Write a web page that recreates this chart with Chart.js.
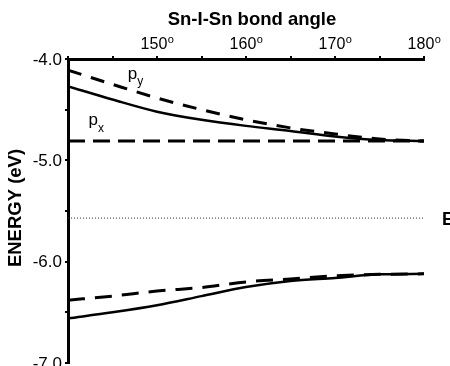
<!DOCTYPE html>
<html>
<head>
<meta charset="utf-8">
<script src="https://cdn.jsdelivr.net/npm/chart.js@4/dist/chart.umd.min.js"></script>
<style>
html,body{margin:0;padding:0;background:#fff;}
#wrap{width:450px;height:366px;position:relative;}
</style>
</head>
<body>
<div id="wrap"><canvas id="c" width="450" height="366"></canvas></div>
<script>
// ---- data ----
const angles = [140, 145, 150, 155, 160, 165, 170, 175, 180];
const upperSolid = [-4.27, -4.40, -4.52, -4.60, -4.66, -4.71, -4.765, -4.80, -4.81];
const pyDashed   = [-4.11, -4.25, -4.385, -4.50, -4.60, -4.68, -4.74, -4.79, -4.81];
const pxDashed   = [-4.81, -4.81, -4.81, -4.81, -4.81, -4.81, -4.81, -4.81, -4.81];
const lowerSolid = [-6.56, -6.50, -6.43, -6.34, -6.25, -6.19, -6.16, -6.125, -6.12];
const lowerDashed= [-6.38, -6.34, -6.29, -6.255, -6.20, -6.17, -6.14, -6.125, -6.12];
const fermiAngles = [140, 180.3];
const fermiLevel  = [-5.57, -5.57];
const xTickValues = [150, 160, 170, 180];
const yTickValues = [-4, -5, -6, -7];
const xTitle = 'Sn-I-Sn bond angle';
const yTitle = 'ENERGY (eV)';

const pts = (xs, ys) => xs.map((x, i) => ({x: x, y: ys[i]}));
const FONT = '"Liberation Sans", Arial, sans-serif';

const labelPlugin = {
  id: 'labels',
  afterDraw(chart) {
    const ctx = chart.ctx;
    const xs = chart.scales.x, ys = chart.scales.y;
    ctx.save();
    ctx.fillStyle = '#000';
    // x tick labels with superscript o
    xTickValues.forEach(v => {
      const px = xs.getPixelForValue(v);
      ctx.font = '16px ' + FONT;
      const t = String(v);
      const w1 = ctx.measureText(t).width;
      ctx.font = '11px ' + FONT;
      const w2 = ctx.measureText('o').width;
      const start = px - (w1 + w2) / 2;
      ctx.textAlign = 'left';
      ctx.textBaseline = 'alphabetic';
      ctx.font = '16px ' + FONT;
      ctx.fillText(t, start, 49);
      ctx.font = '11px ' + FONT;
      ctx.fillText('o', start + w1 + 0.5, 43);
    });
    // y tick labels
    ctx.font = '17px ' + FONT;
    ctx.textAlign = 'right';
    ctx.textBaseline = 'middle';
    yTickValues.forEach(v => {
      ctx.fillText(v.toFixed(1), 62, ys.getPixelForValue(v) + 1);
    });
    // titles
    ctx.font = 'bold 18.5px ' + FONT;
    ctx.textAlign = 'center';
    ctx.textBaseline = 'middle';
    ctx.fillText(xTitle, 252, 20);
    ctx.save();
    ctx.translate(16, 208);
    ctx.rotate(-Math.PI / 2);
    ctx.font = 'bold 18.5px ' + FONT;
    ctx.fillText(yTitle, 0, 0);
    ctx.restore();
    // curve labels
    ctx.textAlign = 'left';
    ctx.textBaseline = 'alphabetic';
    ctx.font = '17px ' + FONT;
    const pyX = xs.getPixelForValue(146.7), pyY = ys.getPixelForValue(-4.2);
    ctx.fillText('p', pyX, pyY);
    ctx.font = '12px ' + FONT;
    ctx.fillText('y', pyX + 9.5, pyY + 6);
    ctx.font = '17px ' + FONT;
    const pxX = xs.getPixelForValue(142.3), pxY = ys.getPixelForValue(-4.65);
    ctx.fillText('p', pxX, pxY);
    ctx.font = '12px ' + FONT;
    ctx.fillText('x', pxX + 9.5, pxY + 7);
    // Fermi label
    ctx.font = 'bold 18px ' + FONT;
    ctx.textBaseline = 'middle';
    const fy = ys.getPixelForValue(-5.57);
    ctx.fillText('E', 442, fy + 2);
    ctx.font = 'bold 12px ' + FONT;
    ctx.fillText('F', 455, fy + 8);
    ctx.restore();
  }
};

new Chart(document.getElementById('c'), {
  type: 'line',
  data: {
    datasets: [
      {data: pts(angles, upperSolid), borderColor: '#000', borderWidth: 2.5, pointRadius: 0, cubicInterpolationMode: 'monotone', fill: false},
      {data: pts(angles, pyDashed), borderColor: '#000', borderWidth: 3, borderDash: [14, 10], pointRadius: 0, cubicInterpolationMode: 'monotone', fill: false},
      {data: pts(angles, pxDashed), borderColor: '#000', borderWidth: 3, borderDash: [17, 8], pointRadius: 0, fill: false},
      {data: pts(angles, lowerSolid), borderColor: '#000', borderWidth: 2.5, pointRadius: 0, cubicInterpolationMode: 'monotone', fill: false},
      {data: pts(angles, lowerDashed), borderColor: '#000', borderWidth: 3, borderDash: [17, 10], pointRadius: 0, cubicInterpolationMode: 'monotone', fill: false},
      {data: pts(fermiAngles, fermiLevel), borderColor: '#333', borderWidth: 1, borderDash: [1, 2], pointRadius: 0, fill: false}
    ]
  },
  options: {
    responsive: false,
    animation: false,
    events: [],
    layout: {padding: {left: 0, top: 0, right: 26, bottom: 3}},
    plugins: {legend: {display: false}, tooltip: {enabled: false}},
    scales: {
      x: {
        type: 'linear', position: 'top', min: 140, max: 180,
        afterFit: s => { s.height = 59; },
        ticks: {stepSize: 5, display: false},
        grid: {drawOnChartArea: false, drawTicks: true, tickLength: 3, color: '#000', lineWidth: 2},
        border: {display: true, color: '#000', width: 3}
      },
      y: {
        type: 'linear', position: 'left', min: -7, max: -4,
        afterFit: s => { s.width = 68; },
        ticks: {stepSize: 0.5, display: false},
        grid: {drawOnChartArea: false, drawTicks: true, tickLength: 3, color: '#000', lineWidth: 2},
        border: {display: true, color: '#000', width: 3}
      }
    }
  },
  plugins: [labelPlugin]
});
</script>
</body>
</html>
